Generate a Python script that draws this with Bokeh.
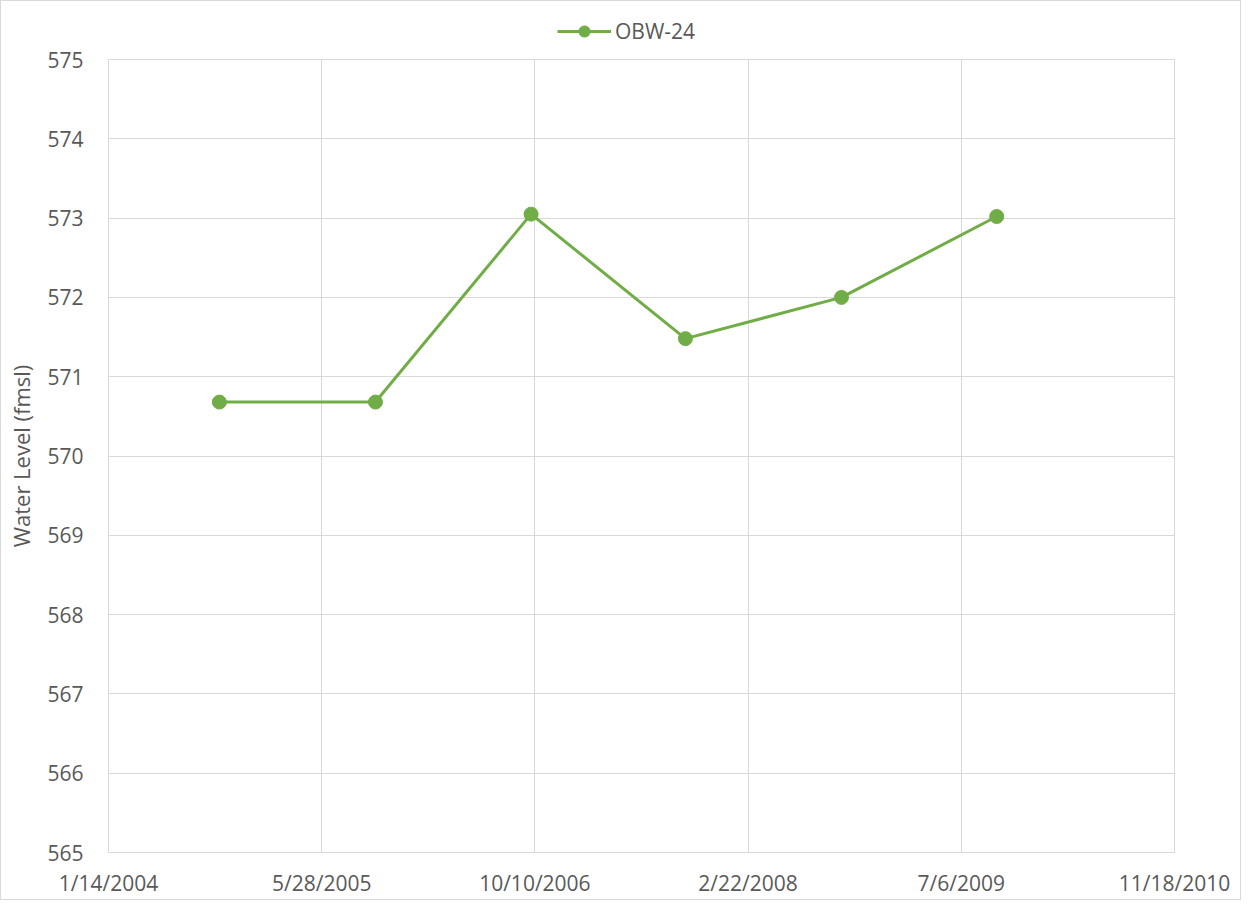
import pandas as pd
from bokeh.plotting import figure
from bokeh.layouts import column
from bokeh.models import (Range1d, FixedTicker, CustomJSTickFormatter, Legend,
                          LegendItem, ColumnDataSource)
from bokeh.embed import file_html
from bokeh.resources import INLINE

# ---- data ----
series_name = "OBW-24"
dates = ["2004-09-30", "2005-10-01", "2006-10-01", "2007-09-28", "2008-09-28", "2009-09-27"]
levels = [570.68, 570.68, 573.05, 571.48, 572.00, 573.02]
x_tick_dates = ["2004-01-14", "2005-05-28", "2006-10-10", "2008-02-22", "2009-07-06", "2010-11-18"]
y_ticks = [565, 566, 567, 568, 569, 570, 571, 572, 573, 574, 575]
y_title = "Water Level (fmsl)"

def to_ms(d):
    return pd.Timestamp(d).value / 1e6

src = ColumnDataSource(dict(x=pd.to_datetime(dates), y=levels))
x_ticks_ms = [to_ms(d) for d in x_tick_dates]

FONT = "Open Sans"
TXT = "#595959"
GRID = "#d9d9d9"
GREEN = "#70ad47"
W = 1239
LEG_H = 44

# ---- main chart ----
p = figure(width=W, height=854, x_axis_type="datetime",
           output_backend="svg", toolbar_location=None,
           x_range=Range1d(x_ticks_ms[0], x_ticks_ms[-1]),
           y_range=Range1d(y_ticks[0], y_ticks[-1]),
           min_border_left=107, min_border_right=66,
           min_border_top=14, min_border_bottom=47)

xt = FixedTicker(ticks=x_ticks_ms)
yt = FixedTicker(ticks=y_ticks)
p.xaxis.ticker = xt
p.xgrid.ticker = xt
p.yaxis.ticker = yt
p.ygrid.ticker = yt
p.xaxis.formatter = CustomJSTickFormatter(code="""
const d = new Date(tick);
return (d.getUTCMonth()+1) + "/" + d.getUTCDate() + "/" + d.getUTCFullYear();
""")

for ax in (p.xaxis, p.yaxis):
    ax.major_tick_line_color = None
    ax.minor_tick_line_color = None
    ax.major_label_text_font = FONT
    ax.major_label_text_font_size = "21px"
    ax.major_label_text_color = TXT
p.xaxis.axis_line_color = GRID
p.yaxis.axis_line_color = None
p.xaxis.major_label_standoff = 10
p.yaxis.major_label_standoff = 19
p.yaxis.axis_label = y_title
p.yaxis.axis_label_text_font = FONT
p.yaxis.axis_label_text_font_size = "22px"
p.yaxis.axis_label_text_font_style = "normal"
p.yaxis.axis_label_text_color = TXT
p.yaxis.axis_label_standoff = 8

p.xgrid.grid_line_color = GRID
p.ygrid.grid_line_color = GRID
p.outline_line_color = GRID

p.line("x", "y", source=src, line_color=GREEN, line_width=3)
p.scatter("x", "y", source=src, marker="circle", size=14,
          fill_color=GREEN, line_color=GREEN)

# ---- legend strip above the chart (its frame is aligned with the chart's) ----
lf = figure(width=W, height=LEG_H, output_backend="svg", toolbar_location=None,
            x_range=Range1d(x_ticks_ms[0], x_ticks_ms[-1]), y_range=Range1d(0, 1),
            x_axis_location=None, y_axis_location=None,
            min_border=0, min_border_left=107, min_border_right=66,
            min_border_top=0, min_border_bottom=0)
lf.grid.visible = False
lf.outline_line_color = None
ll = lf.line("x", "y", source=src, line_color=GREEN, line_width=3)
ls = lf.scatter("x", "y", source=src, marker="circle", size=14,
                fill_color=GREEN, line_color=GREEN)
legend = Legend(items=[LegendItem(label=series_name, renderers=[ll, ls])],
                location=(449, 0), orientation="horizontal",
                border_line_color=None, background_fill_alpha=0,
                label_text_font=FONT, label_text_font_size="21px",
                label_text_color=TXT, glyph_width=54, glyph_height=28,
                padding=0, spacing=0, margin=0, label_standoff=4)
lf.add_layout(legend, "center")

layout = column(lf, p, spacing=0, styles={"border": "1px solid #d9d9d9"})

open("out.html", "w").write(file_html(layout, INLINE))
